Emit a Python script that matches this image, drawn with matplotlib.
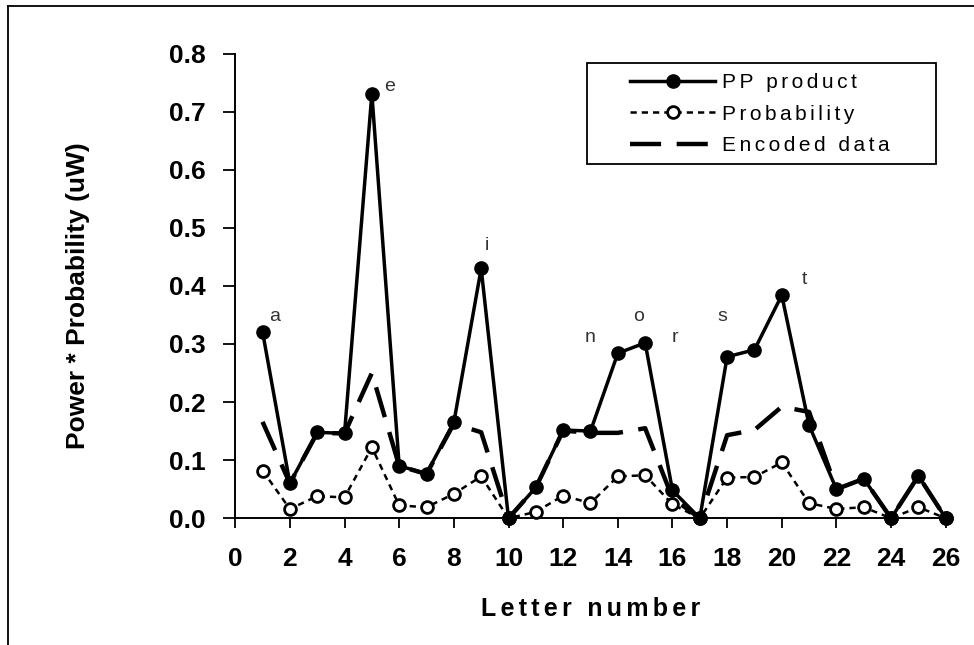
import matplotlib
matplotlib.use("Agg")
import matplotlib.pyplot as plt
from matplotlib.lines import Line2D
from matplotlib.patches import Rectangle

plt.rcParams['font.family'] = ['Liberation Sans', 'DejaVu Sans']

letter_number = list(range(1, 27))
pp_product = [0.321, 0.060, 0.148, 0.146, 0.731, 0.090, 0.077, 0.165, 0.430, 0.0,
              0.053, 0.152, 0.150, 0.284, 0.302, 0.048, 0.0, 0.278, 0.290, 0.384,
              0.160, 0.050, 0.068, 0.0, 0.073, 0.0]
probability = [0.082, 0.016, 0.038, 0.036, 0.122, 0.022, 0.019, 0.042, 0.072, 0.0,
               0.011, 0.039, 0.026, 0.072, 0.074, 0.024, 0.0, 0.070, 0.071, 0.096,
               0.026, 0.016, 0.019, 0.0, 0.019, 0.0]
encoded = [0.166, 0.060, 0.147, 0.146, 0.250, 0.090, 0.076, 0.163, 0.148, 0.0,
           0.053, 0.151, 0.147, 0.147, 0.155, 0.035, 0.0, 0.143, 0.152, 0.192,
           0.183, 0.050, 0.068, 0.0, 0.073, 0.0]

peak_letters = ['a', 'e', 'i', 'n', 'o', 'r', 's', 't']
peak_x = [1.46, 5.66, 9.22, 13.0, 14.75, 16.09, 17.82, 20.82]
peak_y = [0.347, 0.743, 0.470, 0.311, 0.347, 0.312, 0.348, 0.411]


def spaced(s, n=2):
    # crude letter tracking with hair spaces
    return ('\u200a' * n).join(s)


fig = plt.figure(figsize=(9.74, 6.45), dpi=100)
ax = fig.add_axes([0.2415, 0.1965, 0.7295, 0.7205])

ax.plot(letter_number, encoded, color='black', lw=3.2, dashes=(7, 3.5),
        label=spaced('Encoded data'), zorder=2, clip_on=False)
ax.plot(letter_number, probability, color='black', lw=1.8, dashes=(2.5, 2),
        marker='o', ms=8.5, mfc='white', mec='black', mew=2,
        label=spaced('Probability'), zorder=3, clip_on=False)
ax.plot(letter_number, pp_product, color='black', lw=2.5,
        marker='o', ms=9.5, mfc='black', mec='black',
        label=spaced('PP product'), zorder=4, clip_on=False)

for s, x, y in zip(peak_letters, peak_x, peak_y):
    ax.text(x, y, s, fontsize=14, color='#333333', ha='center', va='center')

ax.set_xlim(0, 26)
ax.set_ylim(0, 0.8)
ax.set_xticks(range(0, 27, 2))
ax.set_yticks([i / 10 for i in range(9)])
ax.set_yticklabels([f'{i / 10:.1f}' for i in range(9)])
ax.spines['top'].set_visible(False)
ax.spines['right'].set_visible(False)
for sp in ['left', 'bottom']:
    ax.spines[sp].set_linewidth(1.4)
ax.tick_params(axis='x', direction='out', length=7, width=1.3, pad=14, labelsize=19)
ax.tick_params(axis='y', direction='out', length=8.5, width=1.3, pad=13, labelsize=19)
for lab in ax.get_xticklabels() + ax.get_yticklabels():
    lab.set_fontweight('bold')

ax.set_xlabel(spaced('Letter number'), fontsize=18, fontweight='bold')
ax.xaxis.set_label_coords(0.5, -0.169)
ax.set_ylabel('Power * Probability (uW)', fontsize=19, fontweight='bold')
ax.yaxis.set_label_coords(-0.204, 0.478)

handles, labels = ax.get_legend_handles_labels()
order = [2, 1, 0]
leg = ax.legend([handles[i] for i in order], [labels[i] for i in order],
                loc='upper left', bbox_to_anchor=(0.5557, 0.958), fontsize=15,
                frameon=False, handlelength=4.08, handletextpad=0.34,
                borderpad=0, borderaxespad=0, labelspacing=0.6)
ax.add_patch(Rectangle((0.495, 0.762), 0.491, 0.218, transform=ax.transAxes,
                       fill=False, edgecolor='black', lw=1.3, clip_on=False))

# outer frame (left and top edges only visible in the original)
fig.add_artist(Line2D([8 / 974, 8 / 974], [0, 1 - 6 / 645], color='black', lw=1.3,
                      transform=fig.transFigure))
fig.add_artist(Line2D([8 / 974, 1], [1 - 6 / 645, 1 - 6 / 645], color='black', lw=1.3,
                      transform=fig.transFigure))

fig.savefig('out.png', dpi=100)
